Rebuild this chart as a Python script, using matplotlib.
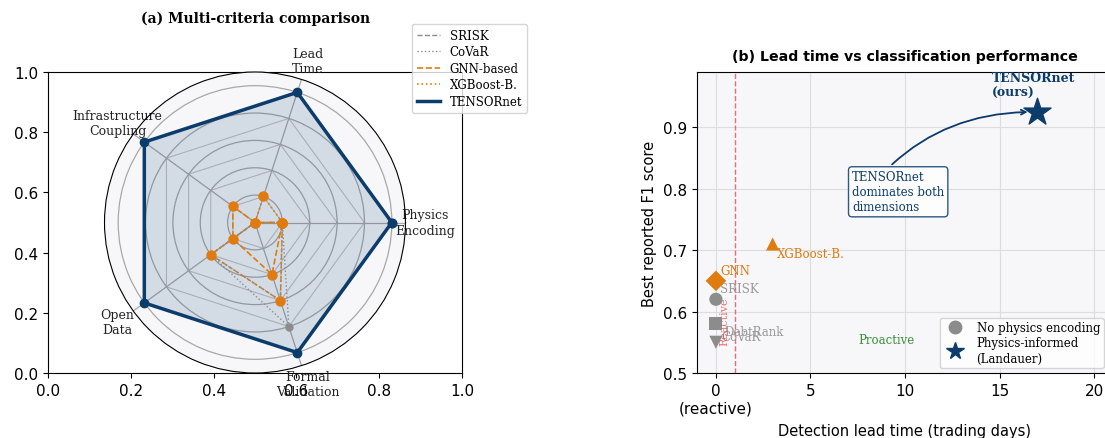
import numpy as np
import matplotlib
matplotlib.use('Agg')
import matplotlib.pyplot as plt
from matplotlib.lines import Line2D

W, H = 1105, 439
navy = '#0b3c6b'
orange = '#e07b10'
gray = '#8c8c8c'

# (a) radar data
criteria = ['Physics\nEncoding', 'Lead\nTime', 'Infrastructure\nCoupling', 'Open\nData', 'Formal\nValidation']
radar_names = ['SRISK', 'CoVaR', 'GNN-based', 'XGBoost-B.', 'TENSORnet']
srisk = [0.2, 0.0, 0.0, 0.4, 0.6]
covar = [0.2, 0.0, 0.0, 0.4, 0.8]
gnn = [0.2, 0.0, 0.2, 0.2, 0.4]
xgb = [0.2, 0.2, 0.0, 0.4, 0.6]
tensornet = [1.0, 1.0, 1.0, 1.0, 1.0]

# (b) lead time vs F1
methods = ['SRISK', 'CoVaR', 'DebtRank', 'GNN', 'XGBoost-B.', 'TENSORnet']
lead_days = [0, 0, 0, 0, 3, 17]
f1 = [0.62, 0.55, 0.58, 0.65, 0.71, 0.925]

fig = plt.figure(figsize=(W / 100, H / 100), dpi=100)

rect_a = [48 / W, 65 / H, 414 / W, 301 / H]
ax0 = fig.add_axes(rect_a)   # leftover cartesian axes under the radar
ax0.tick_params(labelsize=11)

ax = fig.add_axes(rect_a, projection='polar')
ax.set_facecolor('#f7f7fa')
angles = np.linspace(0, 2 * np.pi, len(criteria), endpoint=False)
ang = np.append(angles, angles[0])

def closed(v):
    return np.append(v, v[0])

for lvl in [0.2, 0.4, 0.6, 0.8, 1.0]:
    ax.plot(ang, [lvl] * len(ang), color='#c4c4c4', lw=0.8, zorder=1)

styles = [
    (srisk, gray, '--', 1.0, 5),
    (covar, gray, ':', 1.0, 5),
    (gnn, orange, '--', 1.2, 6.5),
    (xgb, orange, ':', 1.2, 6.5),
]
for vals, c, ls, lw, ms in styles:
    ax.plot(ang, closed(vals), color=c, ls=ls, lw=lw, marker='o', ms=ms, zorder=3)
ax.plot(ang, closed(tensornet), color=navy, lw=2.5, marker='o', ms=6, zorder=4)
ax.fill(ang, closed(tensornet), color=navy, alpha=0.15, zorder=2)

ax.set_xticks(angles)
ax.set_xticklabels(criteria, fontfamily='serif', fontsize=9, color='#222222')
ax.set_yticks([0.2, 0.4, 0.6, 0.8, 1.0])
ax.set_yticklabels([])
ax.set_ylim(0, 1.1)
ax.grid(True, color='#a8a8a8', lw=0.9)

handles = [Line2D([], [], color=gray, ls='--', lw=1.0),
           Line2D([], [], color=gray, ls=':', lw=1.0),
           Line2D([], [], color=orange, ls='--', lw=1.2),
           Line2D([], [], color=orange, ls=':', lw=1.2),
           Line2D([], [], color=navy, lw=2.5)]
fig.legend(handles, radar_names, loc='upper left', bbox_to_anchor=(412 / W, 1 - 25 / H),
           prop={'family': 'serif', 'size': 8.5}, borderaxespad=0, labelspacing=0.3)
fig.text(256 / W, 1 - 19 / H, '(a) Multi-criteria comparison', ha='center', va='center',
         fontfamily='serif', fontweight='bold', fontsize=10)

# (b) scatter
ax1 = fig.add_axes([697 / W, 65 / H, 416 / W, 301 / H])
ax1.set_facecolor('#f7f7fa')
ax1.grid(True, color='#dddddd', lw=0.8)
ax1.set_axisbelow(True)
ax1.set_xlim(-1, 21)
ax1.set_ylim(0.5, 0.99)

markers = ['o', 'v', 's', 'D', '^', '*']
colors = [gray, gray, gray, orange, orange, navy]
sizes = [90, 90, 90, 110, 90, 420]
txt_colors = ['#999999', '#999999', '#999999', orange, orange, navy]
offsets = [(3, 5), (4, 2), (6, -8), (3, 5), (3, -9), None]
for m, x, y, mk, c, s, tc, off in zip(methods, lead_days, f1, markers, colors, sizes, txt_colors, offsets):
    ax1.scatter(x, y, marker=mk, s=s, color=c, zorder=4,
                edgecolor=navy if m == 'TENSORnet' else 'none')
    if off is not None:
        ax1.annotate(m, (x, y), xytext=off, textcoords='offset points',
                     color=tc, fontfamily='serif', fontsize=8.5)

ax1.annotate('TENSORnet\n(ours)', (lead_days[-1], f1[-1]), xytext=(-33, 9), textcoords='offset points',
             ha='left', va='bottom', color=navy, fontweight='bold', fontfamily='serif', fontsize=9)
ax1.annotate('TENSORnet\ndominates both\ndimensions', xy=(lead_days[-1], f1[-1]), xytext=(7.2, 0.795),
             va='center', ha='left', color=navy, fontfamily='serif', fontsize=8.5,
             bbox=dict(boxstyle='round,pad=0.3', fc='white', ec=navy, alpha=0.85),
             arrowprops=dict(arrowstyle='->', color=navy, lw=1.3, relpos=(0, 0), shrinkB=7,
                             connectionstyle='arc3,rad=-0.28'))

ax1.axvline(1, color='#e05050', ls='--', lw=1, alpha=0.8)
ax1.text(0.45, 0.585, 'Reactive', rotation=90, ha='center', va='center', color='#e05050',
         fontfamily='serif', fontsize=8, alpha=0.8)
ax1.text(9, 0.555, 'Proactive', ha='center', va='center', color='#3a913a',
         fontfamily='serif', fontsize=8.5)

ax1.set_xticks([0, 5, 10, 15, 20])
ax1.set_xticklabels(['0\n(reactive)', '5', '10', '15', '20'])
ax1.tick_params(labelsize=11)
ax1.set_xlabel('Detection lead time (trading days)', fontsize=10.5, labelpad=6)
ax1.set_ylabel('Best reported F1 score', fontsize=10.5)
ax1.set_title('(b) Lead time vs classification performance', fontweight='bold', fontsize=10.2, pad=9)

leg_handles = [Line2D([], [], marker='o', color=gray, ls='', ms=9),
               Line2D([], [], marker='*', color=navy, ls='', ms=13)]
ax1.legend(leg_handles, ['No physics encoding', 'Physics-informed\n(Landauer)'],
           loc='lower left', bbox_to_anchor=(940 / W, 1 - 369 / H), bbox_transform=fig.transFigure,
           prop={'family': 'serif', 'size': 8.5}, borderaxespad=0, labelspacing=0.2, borderpad=0.3)

fig.savefig('out.png', dpi=100)
